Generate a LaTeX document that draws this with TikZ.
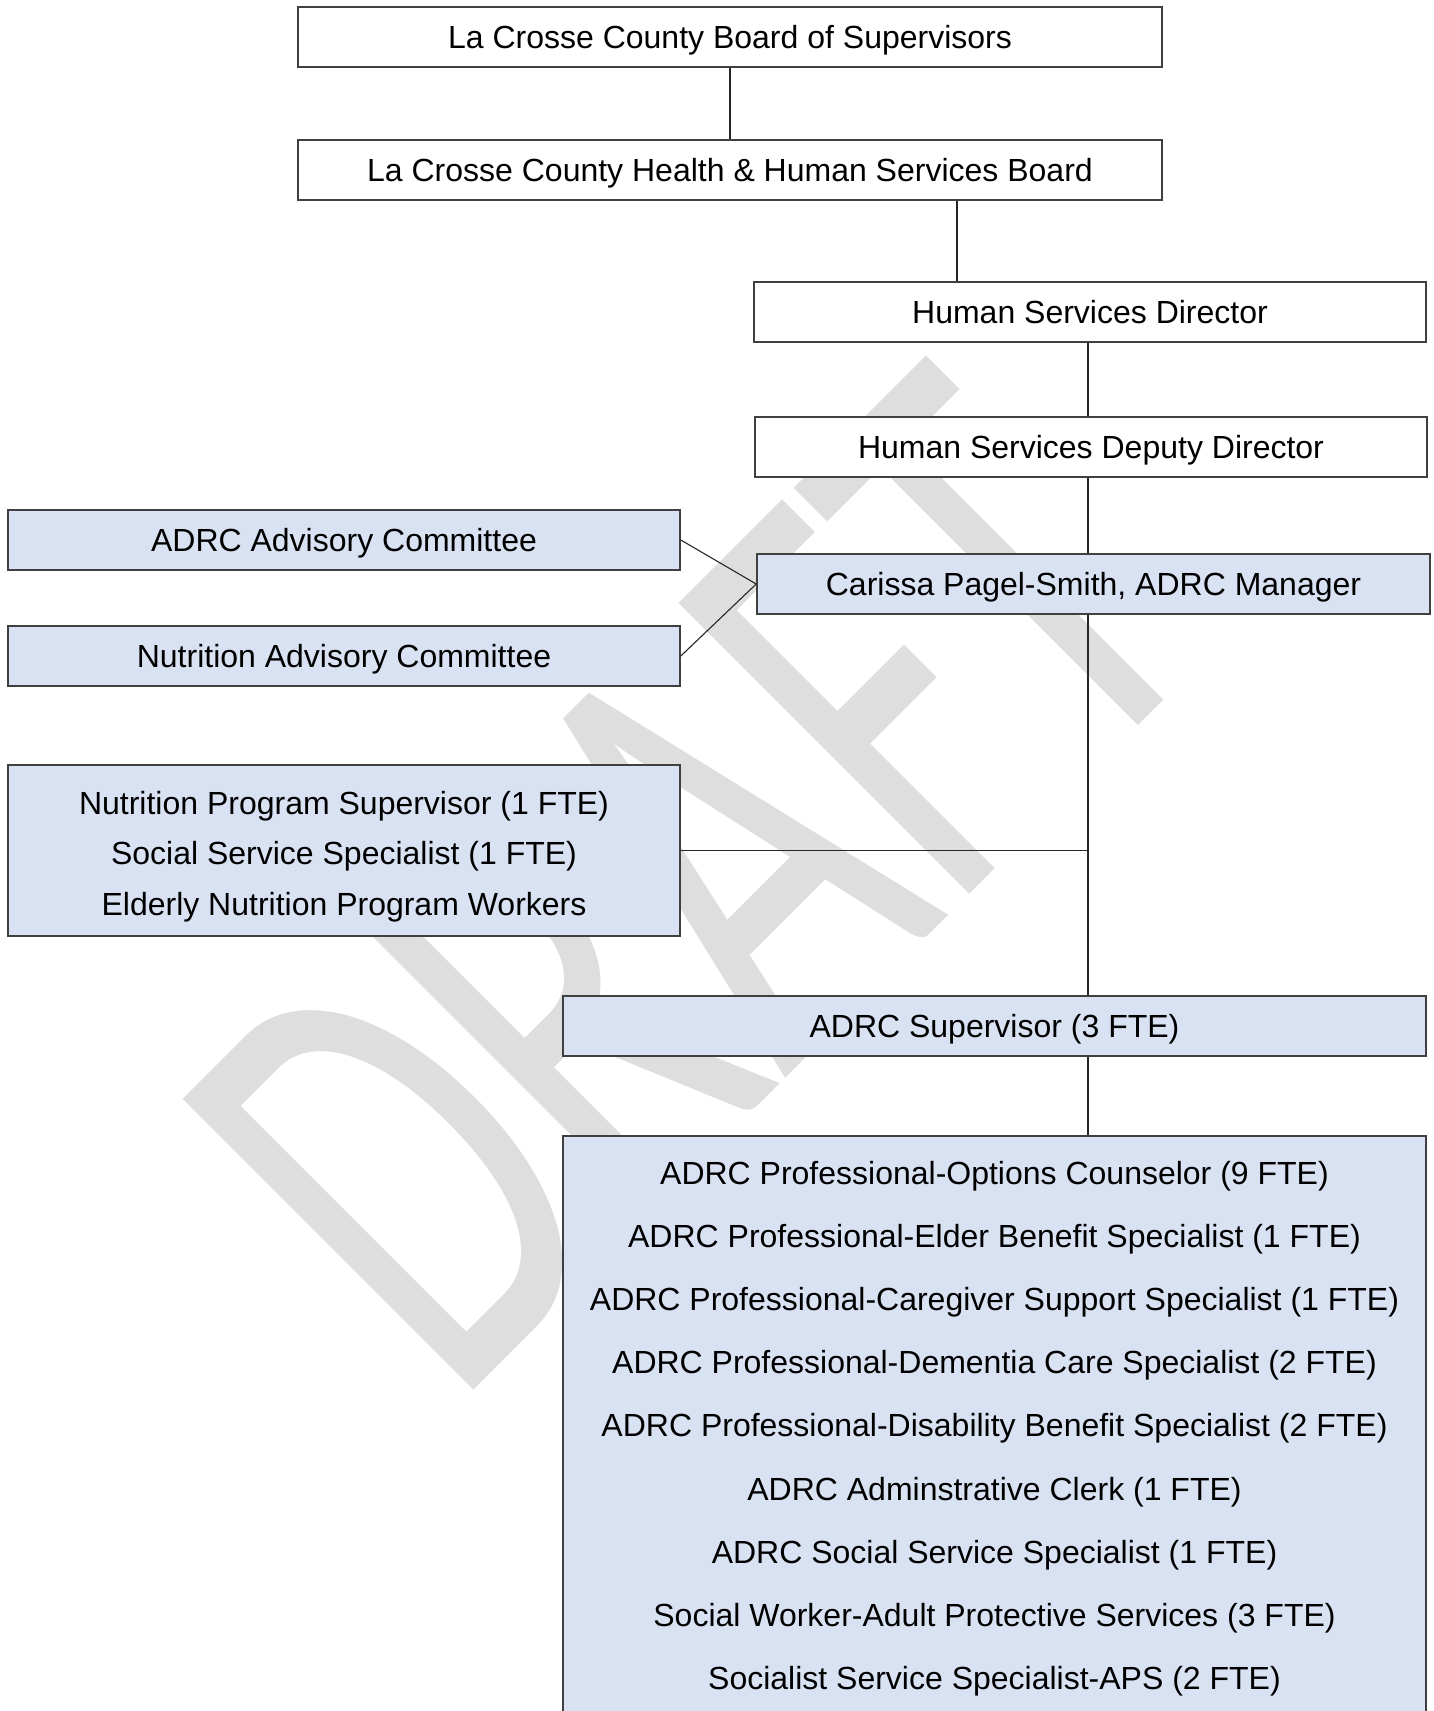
\documentclass[tikz,border=0pt]{standalone}
\usepackage{fontspec}
\setmainfont{Liberation Sans}
\newfontfamily\wmfont{Carlito}
\definecolor{boxblue}{RGB}{217,226,243}
\definecolor{wmgray}{RGB}{222,222,222}
\definecolor{edgegray}{RGB}{64,64,64}
\begin{document}
\begin{tikzpicture}[x=1pt,y=1pt,
  box/.style={draw=edgegray, line width=1.6pt, minimum height=60pt, inner sep=0pt,
              text height=23pt, text depth=0pt, font=\fontsize{32}{38}\selectfont, anchor=center},
  wbox/.style={box, fill=white},
  bbox/.style={box, fill=boxblue},
  txt/.style={font=\fontsize{32}{38}\selectfont, inner sep=0pt, anchor=base},
  link/.style={draw=black!85, line width=1.1pt}]
\useasboundingbox (0,0) rectangle (1434,-1711);
\fill[white] (0,0) rectangle (1434,-1711);
\clip (0,0) rectangle (1434,-1711);
% watermark
\begin{scope}[shift={(454,-1410)}, rotate=45, xscale=0.63]
  \node[transform shape, anchor=base west, inner sep=0pt, text=wmgray,
        font=\wmfont\fontsize{641}{641}\selectfont] (wm) at (0,0) {DRAFT};
\end{scope}
% boxes
\node[wbox, minimum width=864pt] (b1) at (730,-37) {La Crosse County Board of Supervisors};
\node[wbox, minimum width=864pt] (b2) at (730,-170) {La Crosse County Health \& Human Services Board};
\node[wbox, minimum width=672pt] (b3) at (1090,-312) {Human Services Director};
\node[wbox, minimum width=672pt] (b4) at (1091,-447) {Human Services Deputy Director};
\node[bbox, minimum width=673pt] (b5) at (1093.5,-584) {Carissa Pagel-Smith, ADRC Manager};
\node[bbox, minimum width=672pt] (adv) at (344,-540) {ADRC Advisory Committee};
\node[bbox, minimum width=672pt] (nadv) at (344,-656) {Nutrition Advisory Committee};
\node[bbox, minimum width=672pt, minimum height=171pt] (nprog) at (344,-850.5) {};
\node[txt] (np1) at (344,-814.7) {Nutrition Program Supervisor (1 FTE)};
\node[txt] (np2) at (344,-864.9) {Social Service Specialist (1 FTE)};
\node[txt] (np3) at (344,-915.1) {Elderly Nutrition Program Workers};
\node[bbox, minimum width=863pt] (sup) at (994.5,-1026) {ADRC Supervisor (3 FTE)};
\node[bbox, minimum width=863pt, minimum height=640pt, anchor=north] (staff) at (994.5,-1135) {};
\node[txt] (s1) at (994.5,-1184.6) {ADRC Professional-Options Counselor (9 FTE)};
\node[txt] (s2) at (994.5,-1247.9) {ADRC Professional-Elder Benefit Specialist (1 FTE)};
\node[txt] (s3) at (994.5,-1310.1) {ADRC Professional-Caregiver Support Specialist (1 FTE)};
\node[txt] (s4) at (994.5,-1373.4) {ADRC Professional-Dementia Care Specialist (2 FTE)};
\node[txt] (s5) at (994.5,-1436.7) {ADRC Professional-Disability Benefit Specialist (2 FTE)};
\node[txt] (s6) at (994.5,-1500.0) {ADRC Adminstrative Clerk (1 FTE)};
\node[txt] (s7) at (994.5,-1563.3) {ADRC Social Service Specialist (1 FTE)};
\node[txt] (s8) at (994.5,-1626.6) {Social Worker-Adult Protective Services (3 FTE)};
\node[txt] (s9) at (994.5,-1689.9) {Socialist Service Specialist-APS (2 FTE)};
% connectors
\coordinate (xa) at (957,0);
\coordinate (xm) at (1088,0);
\draw[link] (b1.south) -- (b2.north);
\draw[link] (b2.south -| xa) -- (b3.north -| xa);
\draw[link] (b3.south -| xm) -- (b4.north -| xm);
\draw[link] (b4.south -| xm) -- (b5.north -| xm);
\draw[link] (b5.south -| xm) -- (sup.north -| xm);
\draw[link] (sup.south -| xm) -- (staff.north -| xm);
\draw[link] (adv.east) -- (b5.west);
\draw[link] (nadv.east) -- (b5.west);
\draw[link] (nprog.east) -- (nprog.east -| xm);
\end{tikzpicture}
\end{document}
